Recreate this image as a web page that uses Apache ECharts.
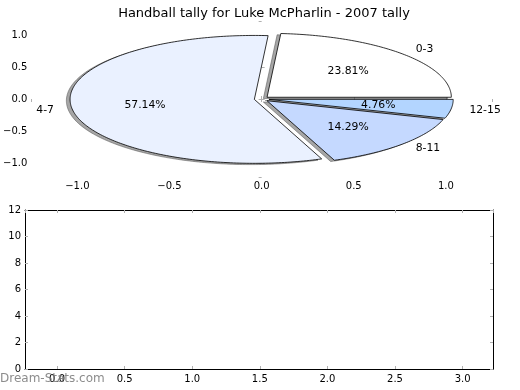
<!DOCTYPE html>
<html>
<head>
<meta charset="utf-8">
<script src="https://cdn.jsdelivr.net/npm/echarts@6/dist/echarts.min.js"></script>
<style>html,body{margin:0;padding:0;background:#fff}#c{width:520px;height:390px}</style>
</head>
<body>
<div id="c"></div>
<script>
var titleText = 'Handball tally for Luke McPharlin - 2007 tally';
var categories = ['0-3', '4-7', '8-11', '12-15'];
var counts = [5, 12, 3, 1];
var sliceColors = ['#ffffff', '#eaf1ff', '#c5d9ff', '#b3d5ff'];
var pieTicks = [-1.0, -0.5, 0.0, 0.5, 1.0];
var lowerYTicks = [0, 2, 4, 6, 8, 10, 12];
var lowerXTicks = [0.0, 0.5, 1.0, 1.5, 2.0, 2.5, 3.0];

var FONT = 'DejaVu Sans';
var explode = 0.04, labelDist = 1.1, pctDist = 0.6, shadowOff = -0.02;
var total = counts.reduce(function (a, b) { return a + b; }, 0);
var slices = [];
var acc = 0;
for (var i = 0; i < counts.length; i++) {
  var a0 = acc / total * 360;
  acc += counts[i];
  var a1 = acc / total * 360;
  slices.push([i, a0, a1, counts[i]]);
}
function fmtTick(v) {
  var s = Math.abs(v).toFixed(1);
  return v < -1e-9 ? '\u2212' + s : s;
}
function isTick(v, list) {
  for (var k = 0; k < list.length; k++) if (Math.abs(v - list[k]) < 1e-6) return true;
  return false;
}
function wedgePts(api, a0, a1, dx, dy) {
  var pts = [api.coord([dx, dy])];
  var n = Math.max(4, Math.ceil((a1 - a0) / 1));
  for (var k = 0; k <= n; k++) {
    var t = (a0 + (a1 - a0) * k / n) * Math.PI / 180;
    pts.push(api.coord([dx + Math.cos(t), dy + Math.sin(t)]));
  }
  return pts;
}
function offsetFor(a0, a1) {
  var m = (a0 + a1) / 2 * Math.PI / 180;
  return [explode * Math.cos(m), explode * Math.sin(m), m];
}

var tickStyle = { show: true, inside: true, length: 3, lineStyle: { color: '#b0b0b0', width: 1 } };
var labelStyle = { color: '#000', fontFamily: FONT, fontSize: 10 };

var chart = echarts.init(document.getElementById('c'), null, { renderer: 'canvas' });
chart.setOption({
  animation: false,
  backgroundColor: '#fff',
  title: {
    text: titleText, left: 259, top: 2, textAlign: 'center',
    textStyle: { fontFamily: FONT, fontSize: 13, fontWeight: 'normal', color: '#000' }
  },
  graphic: [{
    type: 'text', left: 0, top: 373, z: 100,
    style: { text: 'Dream-Stats.com', fill: 'rgba(120,120,120,0.85)', font: '12px "DejaVu Sans"' }
  }],
  grid: [
    { left: 26, top: 21, width: 466, height: 156 },
    { left: 25, top: 210, width: 468, height: 159 }
  ],
  xAxis: [
    { gridIndex: 0, type: 'value', min: -1.25, max: 1.25, position: 'bottom', splitNumber: 5,
      axisLine: { show: false }, axisTick: tickStyle, splitLine: { show: false },
      axisLabel: Object.assign({ margin: 4, showMinLabel: false, showMaxLabel: false,
        formatter: function (v) { return isTick(v, pieTicks) ? fmtTick(v) : ''; } }, labelStyle) },
    { gridIndex: 0, type: 'value', min: -1.25, max: 1.25, position: 'top', splitNumber: 5,
      axisLine: { show: false }, axisTick: tickStyle, splitLine: { show: false }, axisLabel: { show: false } },
    { gridIndex: 1, type: 'value', min: -0.237, max: 3.225, position: 'bottom', splitNumber: 7,
      axisLine: { show: true, onZero: false, lineStyle: { color: '#000', width: 1 } }, axisTick: tickStyle, splitLine: { show: false },
      axisLabel: Object.assign({ margin: 5, showMinLabel: false, showMaxLabel: false,
        formatter: function (v) { return isTick(v, lowerXTicks) ? fmtTick(v) : ''; } }, labelStyle) },
    { gridIndex: 1, type: 'value', min: -0.237, max: 3.225, position: 'top', splitNumber: 7,
      axisLine: { show: true, onZero: false, lineStyle: { color: '#000', width: 1 } }, axisTick: tickStyle, splitLine: { show: false }, axisLabel: { show: false } }
  ],
  yAxis: [
    { gridIndex: 0, type: 'value', min: -1.22, max: 1.22, position: 'left', splitNumber: 5,
      axisLine: { show: false }, axisTick: tickStyle, splitLine: { show: false },
      axisLabel: Object.assign({ margin: 4, showMinLabel: false, showMaxLabel: false,
        formatter: function (v) { return isTick(v, pieTicks) ? fmtTick(v) : ''; } }, labelStyle) },
    { gridIndex: 0, type: 'value', min: -1.22, max: 1.22, position: 'right', splitNumber: 5,
      axisLine: { show: false }, axisTick: tickStyle, splitLine: { show: false }, axisLabel: { show: false } },
    { gridIndex: 1, type: 'value', min: 0, max: 12, interval: 2, position: 'left',
      axisLine: { show: true, onZero: false, lineStyle: { color: '#000', width: 1 } }, axisTick: tickStyle, splitLine: { show: false },
      axisLabel: Object.assign({ margin: 4, formatter: function (v) { return isTick(v, lowerYTicks) ? String(v) : ''; } }, labelStyle) },
    { gridIndex: 1, type: 'value', min: 0, max: 12, interval: 2, position: 'right',
      axisLine: { show: true, onZero: false, lineStyle: { color: '#000', width: 1 } }, axisTick: tickStyle, splitLine: { show: false }, axisLabel: { show: false } }
  ],
  series: [
    { type: 'custom', xAxisIndex: 0, yAxisIndex: 0, z: 1, data: slices, clip: false,
      renderItem: function (params, api) {
        var a0 = api.value(1), a1 = api.value(2);
        var o = offsetFor(a0, a1);
        return { type: 'polygon', shape: { points: wedgePts(api, a0, a1, o[0] + shadowOff, o[1] + shadowOff) },
          style: { fill: 'rgba(77,77,77,0.5)', stroke: 'rgba(77,77,77,0.5)', lineWidth: 1 } };
      } },
    { type: 'custom', xAxisIndex: 0, yAxisIndex: 0, z: 2, data: slices, clip: false,
      renderItem: function (params, api) {
        var idx = api.value(0), a0 = api.value(1), a1 = api.value(2);
        var o = offsetFor(a0, a1);
        return { type: 'polygon', shape: { points: wedgePts(api, a0, a1, o[0], o[1]) },
          style: { fill: sliceColors[idx], stroke: '#000', lineWidth: 0.8, lineJoin: 'miter' } };
      } },
    { type: 'custom', xAxisIndex: 0, yAxisIndex: 0, z: 3, data: slices, clip: false,
      renderItem: function (params, api) {
        var idx = api.value(0), a0 = api.value(1), a1 = api.value(2), cnt = api.value(3);
        var o = offsetFor(a0, a1), m = o[2];
        var lp = api.coord([o[0] + labelDist * Math.cos(m), o[1] + labelDist * Math.sin(m)]);
        var pp = api.coord([o[0] + pctDist * Math.cos(m), o[1] + pctDist * Math.sin(m)]);
        var right = Math.cos(m) > 0;
        return { type: 'group', children: [
          { type: 'text', x: lp[0], y: lp[1], style: { text: categories[idx], fill: '#000',
              font: '10.8px "DejaVu Sans"', align: right ? 'left' : 'right', verticalAlign: 'middle' } },
          { type: 'text', x: pp[0], y: pp[1], style: { text: (cnt / total * 100).toFixed(2) + '%', fill: '#000',
              font: '10.8px "DejaVu Sans"', align: 'center', verticalAlign: 'middle' } }
        ] };
      } },
    { type: 'line', xAxisIndex: 2, yAxisIndex: 2, data: [] }
  ]
});
</script>
</body>
</html>
